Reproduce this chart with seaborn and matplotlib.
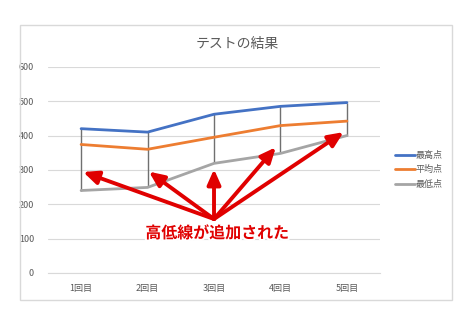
import pandas as pd
import matplotlib
matplotlib.use('Agg')
import matplotlib.pyplot as plt
import matplotlib.patheffects as pe
from matplotlib.patches import Rectangle
import seaborn as sns

# Data
rounds = ['1回目', '2回目', '3回目', '4回目', '5回目']
high_scores = [420, 410, 462, 485, 496]
avg_scores = [374, 360, 395, 429, 442]
low_scores = [240, 249, 319, 348, 400]
series_names = ['最高点', '平均点', '最低点']
yticks = [0, 100, 200, 300, 400, 500, 600]

# Arrow annotation: origin and target points (category index, value)
arrow_origin = (2.0, 157)
arrow_targets = [(0.03, 294), (1.02, 295), (2.0, 302), (2.93, 366), (3.95, 410)]
annotation_text = '高低線が追加された'

sns.set_style('white')
plt.rcParams['font.family'] = ['Noto Sans CJK JP', 'DejaVu Sans']

df = pd.DataFrame({'回': rounds * 3,
                   '点数': high_scores + avg_scores + low_scores,
                   '系列': [s for s in series_names for _ in rounds]})

fig = plt.figure(figsize=(4.74, 3.23), dpi=100)
ax = fig.add_axes([0.101, 0.155, 0.701, 0.638])

# outer chart frame like excel
fig.patches.append(Rectangle((0.042, 0.071), 0.911, 0.851, transform=fig.transFigure,
                             fill=False, edgecolor='#d9d9d9', lw=1))

palette = {'最高点': '#4472C4', '平均点': '#ED7D31', '最低点': '#A5A5A5'}
x_idx = list(range(len(rounds)))

# high-low lines
ax.vlines(x_idx, low_scores, high_scores, color='#707070', lw=1, zorder=2)

sns.lineplot(data=df, x='回', y='点数', hue='系列', palette=palette, lw=2,
             ax=ax, legend=False, zorder=3)

ax.set_xlim(-0.5, 4.5)
ax.set_ylim(0, 600)
ax.set_yticks(yticks)
ax.grid(axis='y', color='#d9d9d9', lw=0.8)
ax.grid(axis='x', visible=False)
ax.set_axisbelow(True)
for s in ['top', 'right', 'left']:
    ax.spines[s].set_visible(False)
ax.spines['bottom'].set_color('#d9d9d9')
ax.xaxis.set_ticks_position('none')
ax.yaxis.set_ticks_position('none')
ax.tick_params(axis='both', length=0, width=0, labelsize=6.5, labelcolor='#595959')
ax.tick_params(axis='x', pad=8)
ax.tick_params(axis='y', pad=10)
ax.set_xlabel('')
ax.set_ylabel('')

fig.text(0.5, 0.865, 'テストの結果', ha='center', va='center', fontsize=10, color='#595959')

# legend
handles = [plt.Line2D([], [], color=palette[n], lw=2) for n in series_names]
ax.legend(handles, series_names, loc='center left', bbox_to_anchor=(1.02, 0.5),
          frameon=False, fontsize=6.5, labelcolor='#595959', handlelength=2.2,
          handletextpad=0.1, labelspacing=0.6)

# red arrows and note
for tx, ty in arrow_targets:
    ax.annotate('', xy=(tx, ty), xytext=arrow_origin,
                arrowprops=dict(arrowstyle='-|>,head_length=0.9,head_width=0.4',
                                color='#e00000', lw=2.8, shrinkA=0, shrinkB=0),
                zorder=5)
ax.text(2.05, 116, annotation_text, ha='center', va='center', fontsize=11.5,
        fontweight='bold', color='#e00000', zorder=6,
        path_effects=[pe.withStroke(linewidth=3, foreground='white')])

fig.savefig('out.png', dpi=100)
